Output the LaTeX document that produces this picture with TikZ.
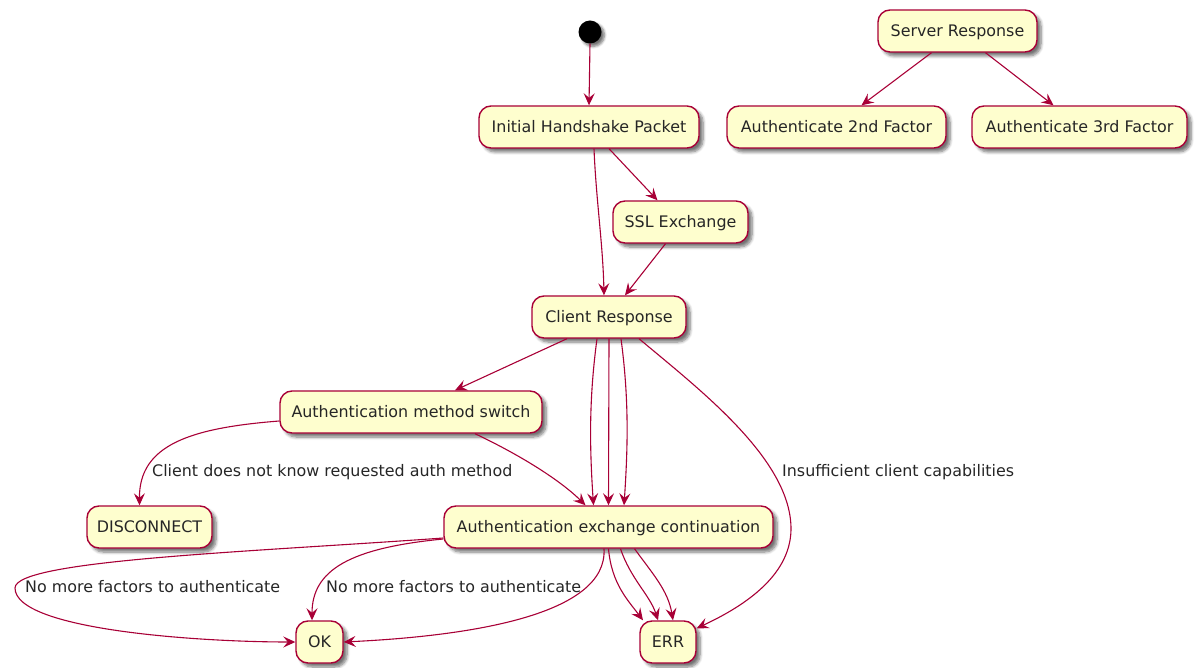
\documentclass[tikz,border=0pt]{standalone}
\usepackage{fontspec}
\setmainfont{DejaVu Sans}
\usetikzlibrary{arrows.meta,shadows.blur}
\definecolor{stfill}{HTML}{FEFECE}
\definecolor{stline}{HTML}{A80036}
\begin{document}
\begin{tikzpicture}[x=1pt,y=-1pt,
  state/.style={draw=stline, fill=stfill, line width=1.4pt, rounded corners=12pt,
    minimum height=42pt, inner sep=0pt, text height=14.5pt, text depth=3.1pt,
    text=black!85, font=\fontsize{15.9}{18}\selectfont,
    blur shadow={shadow xshift=4pt, shadow yshift=-4pt, shadow blur steps=6,
      shadow blur radius=3pt, shadow opacity=55}},
  flow/.style={draw=stline, line width=1.1pt, -{Stealth[length=12pt,width=11pt,inset=4.5pt]}},
  lbl/.style={font=\fontsize{15.9}{18}\selectfont, text=black!85, anchor=west, inner sep=0pt}]
\useasboundingbox (0,0) rectangle (1200,668);

% states
\node[circle, fill=black, minimum size=23pt, inner sep=0pt,
  blur shadow={shadow xshift=3pt, shadow yshift=-3pt, shadow blur steps=6,
    shadow blur radius=2.5pt, shadow opacity=55}] (start) at (590,32) {};
\node[state, minimum width=220pt] (ihp) at (589,127) {Initial Handshake Packet};
\node[state, minimum width=159pt] (srv) at (957.5,31) {Server Response};
\node[state, minimum width=219pt] (a2) at (836.5,127) {Authenticate 2nd Factor};
\node[state, minimum width=215pt] (a3) at (1079.5,127) {Authenticate 3rd Factor};
\node[state, minimum width=135pt] (ssl) at (680.5,222) {SSL Exchange};
\node[state, minimum width=154pt] (cr) at (609,317) {Client Response};
\node[state, minimum width=262pt] (ams) at (411,412) {Authentication method switch};
\node[state, minimum width=125pt] (dis) at (149.5,527) {DISCONNECT};
\node[state, minimum width=329pt] (ae) at (608.5,527) {Authentication exchange continuation};
\node[state, minimum width=47pt] (ok) at (319.5,642) {OK};
\node[state, minimum width=56pt] (err) at (668,642) {ERR};

% bend points of the long loops
\coordinate (errbend) at (791,530);
\coordinate (okloop) at (15,588);

% transitions
\draw[flow] (start.south) -- (ihp.north);
\draw[flow] ([xshift=5pt]ihp.south) .. controls +(2,50) and +(-1,-50) .. ([xshift=-5pt]cr.north);
\draw[flow] ([xshift=20pt]ihp.south) -- ([xshift=-23pt]ssl.north);
\draw[flow] ([xshift=-15pt]ssl.south) -- ([xshift=16pt]cr.north);
\draw[flow] ([xshift=-26pt]srv.south) -- ([xshift=25pt]a2.north);
\draw[flow] ([xshift=28pt]srv.south) -- ([xshift=-26pt]a3.north);

\draw[flow] ([xshift=-42pt]cr.south) -- ([xshift=44pt]ams.north);
\draw[flow] ([xshift=-12pt]cr.south) .. controls +(-8,60) and +(-4,-60) .. ([xshift=-15pt]ae.north);
\draw[flow] (cr.south) -- (ae.north);
\draw[flow] ([xshift=12pt]cr.south) .. controls +(8,60) and +(4,-60) .. ([xshift=15.5pt]ae.north);
\draw[flow] ([xshift=30pt]cr.south) .. controls (700,390) and (792,460) .. (errbend)
  .. controls (790,578) and (740,608) .. ([yshift=-8pt]err.north east);

\draw[flow] ([yshift=-9pt]ams.west) .. controls (190,428) and (139,445) .. ([xshift=-10pt]dis.north);
\draw[flow] ([xshift=64pt]ams.south) .. controls (520,455) and (560,480) .. ([xshift=-23pt]ae.north);

\draw[flow] ([yshift=-11pt]ae.west) .. controls (250,552) and (15,560) .. (okloop)
  .. controls (15,630) and (200,642) .. (ok.west);
\draw[flow] ([yshift=-12pt]ae.west) .. controls (350,548) and (312,570) .. ([xshift=-7.5pt]ok.north);
\draw[flow] ([xshift=-4.5pt]ae.south) .. controls (608,615) and (470,636) .. (ok.east);

\draw[flow] (ae.south) .. controls +(3,35) and +(-15,-20) .. ([xshift=-25pt]err.north);
\draw[flow] ([xshift=12pt]ae.south) .. controls +(10,30) and +(-8,-25) .. ([xshift=-10pt]err.north);
\draw[flow] ([xshift=26pt]ae.south) .. controls +(18,25) and +(-5,-30) .. ([xshift=5pt]err.north);

% transition labels
\node[lbl] (l1) at (782,472) {Insufficient client capabilities};
\node[lbl] (l2) at (152,472) {Client does not know requested auth method};
\node[lbl] (l3) at (25,587) {No more factors to authenticate};
\node[lbl] (l4) at (326,587) {No more factors to authenticate};
\end{tikzpicture}
\end{document}
